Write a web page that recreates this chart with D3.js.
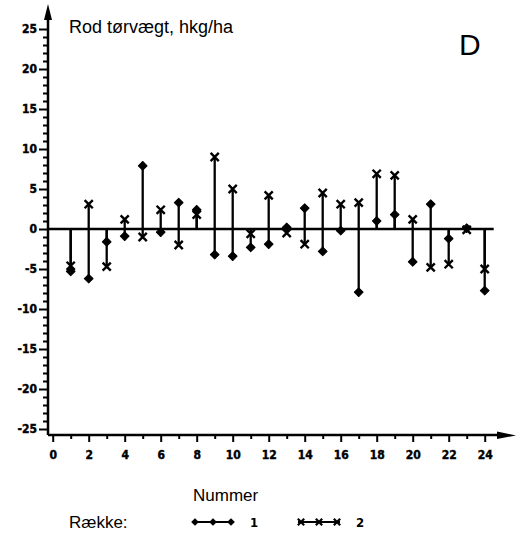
<!DOCTYPE html>
<html lang="da">
<head>
<meta charset="UTF-8">
<title>Rod tørvægt</title>
<style>
  body { margin: 0; background: #fff; }
  svg { display: block; }
  .tick text { font-family: "Liberation Sans Narrow", "DejaVu Sans Condensed", sans-serif; font-weight: bold; font-size: 12px; fill: #000; stroke: #000; stroke-width: 0.4px; }
  .tick line { stroke: #000; stroke-width: 2; }
</style>
</head>
<body>
<script src="https://cdn.jsdelivr.net/npm/d3@7"></script>
<script>
var nummer = [1,2,3,4,5,6,7,8,9,10,11,12,13,14,15,16,17,18,19,20,21,22,23,24];
var raekke1 = [-5.3,-6.2,-1.6,-0.9,7.9,-0.4,3.3,2.4,-3.2,-3.4,-2.3,-1.9,0.2,2.6,-2.8,-0.2,-7.9,1.0,1.8,-4.1,3.1,-1.2,0.1,-7.7];
var raekke2 = [-4.6,3.1,-4.7,1.2,-1.0,2.4,-2.0,1.8,9.0,5.0,-0.6,4.2,-0.5,-1.9,4.5,3.1,3.3,6.9,6.7,1.2,-4.8,-4.4,-0.1,-5.0];
var yTicks = [-25,-20,-15,-10,-5,0,5,10,15,20,25];
var xTicks = [0,2,4,6,8,10,12,14,16,18,20,22,24];

var width = 525, height = 540;
var svg = d3.select('body').append('svg').attr('width', width).attr('height', height);

var x = d3.scaleLinear().domain([0, 24]).range([52.7, 484.7]);
var y = d3.scaleLinear().domain([-25, 25]).range([429, 29]);
var axisX = 48, axisY = 435;

// minor ticks
var yMinor = d3.range(-25, 26, 1).filter(function(v){ return v % 5 !== 0; });
svg.append('g').attr('transform', 'translate(' + axisX + ',0)')
   .call(d3.axisLeft(y).tickValues(yMinor).tickSize(5).tickFormat(''))
   .select('.domain').remove();
svg.append('g').attr('transform', 'translate(' + axisX + ',0)')
   .call(d3.axisLeft(y).tickValues(yTicks).tickSize(9).tickPadding(2).tickFormat(function(d){ return d < 0 ? '-' + Math.abs(d) : d; }))
   .select('.domain').remove();

var xMinor = d3.range(1, 25, 2);
svg.append('g').attr('transform', 'translate(0,' + axisY + ')')
   .call(d3.axisBottom(x).tickValues(xMinor).tickSize(4).tickFormat(''))
   .select('.domain').remove();
svg.append('g').attr('transform', 'translate(0,' + axisY + ')')
   .call(d3.axisBottom(x).tickValues(xTicks).tickSize(7).tickPadding(8))
   .select('.domain').remove();

// axis lines with arrows
svg.append('line').attr('x1', axisX).attr('x2', axisX).attr('y1', axisY).attr('y2', 14)
   .attr('stroke', '#000').attr('stroke-width', 2.5);
svg.append('path').attr('d', 'M' + axisX + ',4 L' + (axisX - 4) + ',20 L' + (axisX + 4) + ',20 Z').attr('fill', '#000');
svg.append('line').attr('x1', axisX).attr('x2', 504).attr('y1', axisY).attr('y2', axisY)
   .attr('stroke', '#000').attr('stroke-width', 2.5);
svg.append('path').attr('d', 'M516,' + (axisY + 0.5) + ' L497,' + (axisY - 3.5) + ' L497,' + (axisY + 4) + ' Z').attr('fill', '#000');

// zero line
svg.append('line').attr('x1', axisX).attr('x2', x(24.5)).attr('y1', y(0)).attr('y2', y(0))
   .attr('stroke', '#000').attr('stroke-width', 2.4);

// stems
var rows = nummer.map(function(n, i){ return { n: n, a: raekke1[i], b: raekke2[i] }; });
svg.selectAll('line.stem1').data(rows).enter().append('line').attr('class', 'stem1')
   .attr('x1', function(d){ return x(d.n); }).attr('x2', function(d){ return x(d.n); })
   .attr('y1', y(0)).attr('y2', function(d){ return y(d.a); })
   .attr('stroke', '#000').attr('stroke-width', 2.3);
svg.selectAll('line.stem2').data(rows).enter().append('line').attr('class', 'stem2')
   .attr('x1', function(d){ return x(d.n); }).attr('x2', function(d){ return x(d.n); })
   .attr('y1', y(0)).attr('y2', function(d){ return y(d.b); })
   .attr('stroke', '#000').attr('stroke-width', 2.3);

// diamonds: squares turned 45 degrees, rounder like the scan
var diamond = d3.symbol().type(d3.symbolSquare).size(38);
var cross = d3.symbol().type(d3.symbolTimes).size(45);

svg.selectAll('path.s1').data(rows).enter().append('path').attr('class', 's1')
   .attr('d', diamond)
   .attr('transform', function(d){ return 'translate(' + x(d.n) + ',' + y(d.a) + ') rotate(45)'; })
   .attr('fill', '#000').attr('stroke', '#000').attr('stroke-width', 1).attr('stroke-linejoin', 'round');
svg.selectAll('path.s2').data(rows).enter().append('path').attr('class', 's2')
   .attr('d', cross)
   .attr('transform', function(d){ return 'translate(' + x(d.n) + ',' + y(d.b) + ')'; })
   .attr('fill', 'none').attr('stroke', '#000').attr('stroke-width', 2.4);

// texts
svg.append('text').attr('x', 69).attr('y', 33).text('Rod tørvægt, hkg/ha')
   .style('font-family', '"Liberation Sans", Arial, sans-serif').style('font-size', '18px');
svg.append('text').attr('x', 459).attr('y', 55).text('D')
   .style('font-family', '"Liberation Sans", Arial, sans-serif').style('font-size', '30px');
svg.append('text').attr('x', 193).attr('y', 501).text('Nummer')
   .style('font-family', '"Liberation Sans", Arial, sans-serif').style('font-size', '17px');
svg.append('text').attr('x', 69).attr('y', 528).text('Række:')
   .style('font-family', '"Liberation Sans", Arial, sans-serif').style('font-size', '17px');

// legend
var legend = [
  { label: '1', x0: 192, filled: true },
  { label: '2', x0: 298, filled: false }
];
var ly = 522;
legend.forEach(function(l){
  svg.append('line').attr('x1', l.x0).attr('x2', l.x0 + 42).attr('y1', ly).attr('y2', ly)
     .attr('stroke', '#000').attr('stroke-width', 2);
  [0, 1, 2].forEach(function(k){
    var p = svg.append('path');
    if (l.filled) {
      p.attr('d', d3.symbol().type(d3.symbolSquare).size(20))
       .attr('transform', 'translate(' + (l.x0 + 3 + k * 18) + ',' + ly + ') rotate(45)')
       .attr('fill', '#000').attr('stroke', '#000').attr('stroke-width', 1);
    } else {
      p.attr('d', d3.symbol().type(d3.symbolTimes).size(28))
       .attr('transform', 'translate(' + (l.x0 + 3 + k * 18) + ',' + ly + ')')
       .attr('fill', 'none').attr('stroke', '#000').attr('stroke-width', 2.2);
    }
  });
  svg.append('text').attr('x', l.x0 + 58).attr('y', ly + 5).text(l.label)
     .style('font-family', '"Liberation Sans Narrow", "DejaVu Sans Condensed", sans-serif')
     .style('font-weight', 'bold').style('font-size', '13px');
});
</script>
</body>
</html>
